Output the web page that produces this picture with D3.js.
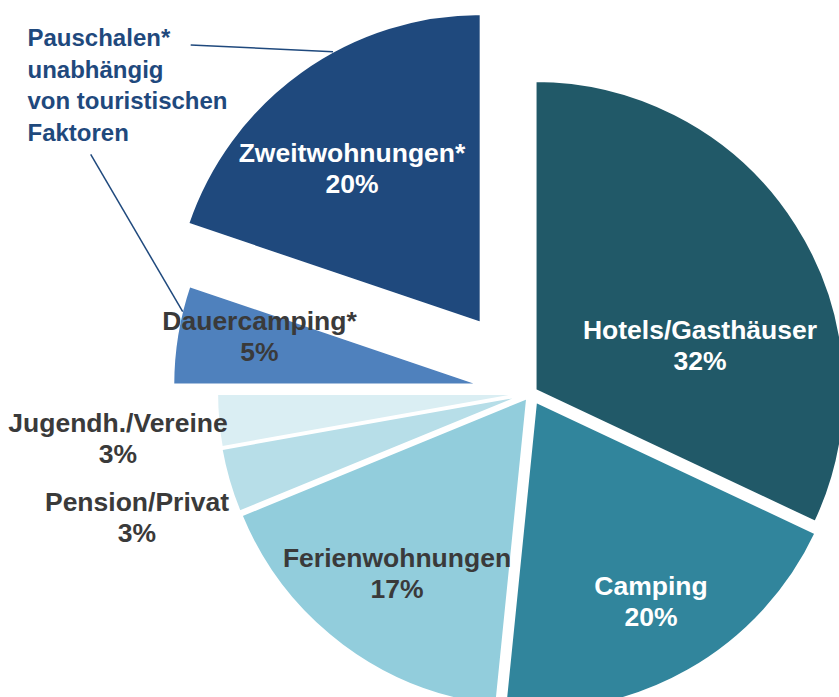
<!DOCTYPE html>
<html>
<head>
<meta charset="utf-8">
<script src="https://cdn.jsdelivr.net/npm/d3@7"></script>
<style>
  html, body { margin: 0; padding: 0; background: #fff; }
  svg { display: block; font-family: "Liberation Sans", Arial, sans-serif; font-weight: bold; }
</style>
</head>
<body>
<div id="chart"></div>
<script>
// --- DATEN ---
const categories = ["Hotels/Gasthäuser", "Camping", "Ferienwohnungen", "Pension/Privat",
                    "Jugendh./Vereine", "Dauercamping*", "Zweitwohnungen*"];
const shares = [32, 19.6, 17.2, 3.4, 2.8, 5.2, 19.8];   // Prozent, aus dem Bild geschätzt
const noteLines = ["Pauschalen*", "unabhängig", "von touristischen", "Faktoren"];

// --- DARSTELLUNG ---
const colors      = ["#215968", "#31859c", "#92cddc", "#b7dee8", "#daeef3", "#4f81bd", "#1f497d"];
const labelColors = ["#ffffff", "#ffffff", "#3a3a3a", "#3a3a3a", "#3a3a3a", "#3a3a3a", "#ffffff"];
const explode     = [4.8, 9.3, 5.5, 5, 4.4, 48.9, 85.5];          // Abstand vom Mittelpunkt
const labelOffsets = [[169, -48], [120, 208], [-134, 180], [-394, 124], [-413, 45], [-271.5, -57], [-179, -225.5]];
const noteLeaders = [[[190.7, 45], [333, 51.7]], [[90.7, 154.3], [182.7, 311.7]]];

const width = 839, height = 697;
const cx = 531, cy = 393, radius = 310;
const fontSize = 26.5, lineGap = 31;

const svg = d3.select("#chart").append("svg")
    .attr("width", width)
    .attr("height", height)
    .attr("viewBox", [0, 0, width, height]);

const data = categories.map((c, i) => ({ name: c, value: shares[i], i: i }));

const pie = d3.pie().value(d => d.value).sort(null).startAngle(0).endAngle(2 * Math.PI);
const arc = d3.arc().innerRadius(0).outerRadius(radius);
const arcs = pie(data);

// Tortenstücke
const gPie = svg.append("g").attr("transform", `translate(${cx},${cy})`);
gPie.selectAll("path")
    .data(arcs)
    .join("path")
    .attr("transform", d => {
        const mid = (d.startAngle + d.endAngle) / 2;
        const e = explode[d.data.i];
        return `translate(${Math.sin(mid) * e},${-Math.cos(mid) * e})`;
    })
    .attr("d", arc)
    .attr("fill", d => colors[d.data.i])
    .attr("stroke", "#fff")
    .attr("stroke-width", 3)
    .attr("stroke-linejoin", "miter");

// Hinweislinien
svg.append("g").selectAll("line")
    .data(noteLeaders)
    .join("line")
    .attr("x1", d => d[0][0]).attr("y1", d => d[0][1])
    .attr("x2", d => d[1][0]).attr("y2", d => d[1][1])
    .attr("stroke", "#1f497d")
    .attr("stroke-width", 1.5);

// Beschriftungen
const pct = v => d3.format(".0f")(v) + "%";
const labels = gPie.selectAll("text.label")
    .data(arcs)
    .join("text")
    .attr("class", "label")
    .attr("text-anchor", "middle")
    .attr("font-size", fontSize)
    .attr("fill", d => labelColors[d.data.i]);

labels.append("tspan")
    .attr("x", d => labelOffsets[d.data.i][0])
    .attr("y", d => labelOffsets[d.data.i][1] - lineGap / 2 + fontSize * 0.358)
    .text(d => d.data.name);
labels.append("tspan")
    .attr("x", d => labelOffsets[d.data.i][0])
    .attr("y", d => labelOffsets[d.data.i][1] + lineGap / 2 + fontSize * 0.358)
    .text(d => pct(d.data.value));

// Anmerkung links oben
svg.append("text")
    .attr("font-size", 24)
    .attr("fill", "#1f497d")
    .selectAll("tspan")
    .data(noteLines)
    .join("tspan")
    .attr("x", 27.5)
    .attr("y", (d, i) => 46 + i * 31.5)
    .text(d => d);
</script>
</body>
</html>
